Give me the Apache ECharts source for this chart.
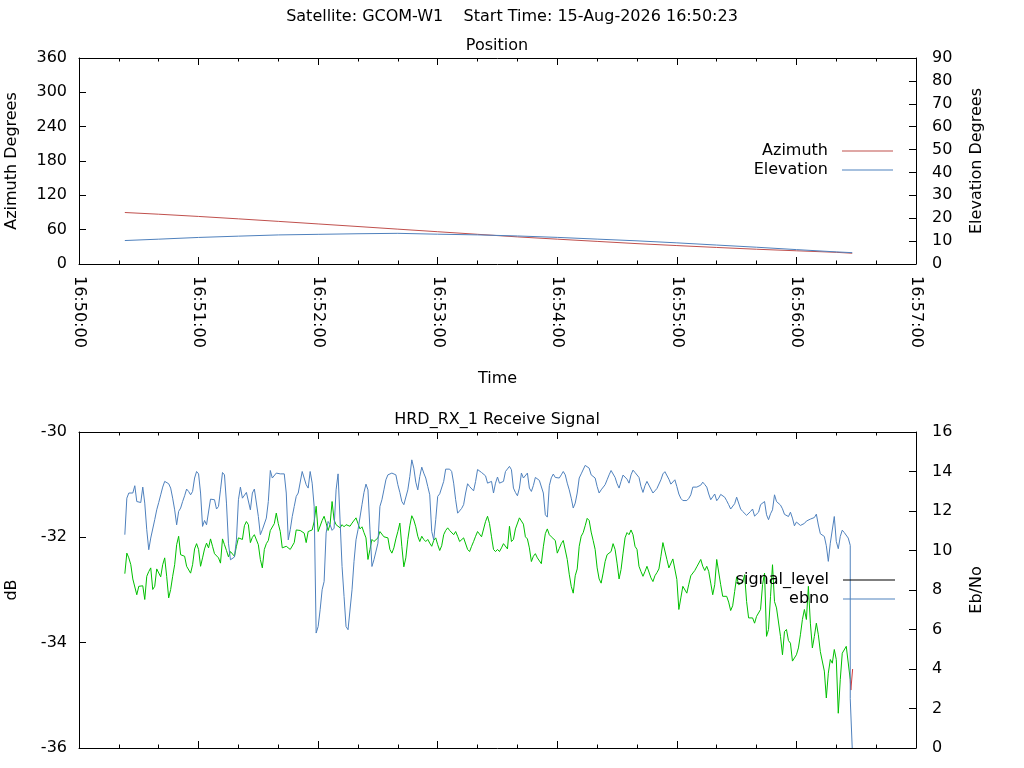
<!DOCTYPE html>
<html>
<head>
<meta charset="utf-8">
<script src="https://cdn.jsdelivr.net/npm/echarts@6/dist/echarts.min.js"></script>
<style>
html,body{margin:0;padding:0;background:#ffffff;}
#chart{width:1024px;height:768px;}
</style>
</head>
<body>
<div id="chart"></div>
<script>
// ---------- texts ----------
const mainTitle = 'Satellite: GCOM-W1    Start Time: 15-Aug-2026 16:50:23';
const positionTitle = 'Position';
const signalTitle = 'HRD_RX_1 Receive Signal';
const xTickLabels = ['16:50:00','16:51:00','16:52:00','16:53:00','16:54:00','16:55:00','16:56:00','16:57:00'];

// ---------- position panel (time = seconds after 16:50:00) ----------
const posTimes  = [23, 40, 60, 80, 100, 120, 140, 160, 180, 200, 220, 240, 260, 280, 300, 320, 340, 360, 380, 388];
const azimuth   = [90.0, 87.0, 83.1, 78.9, 74.5, 70.0, 65.5, 60.9, 56.4, 51.9, 47.4, 43.4, 39.5, 35.6, 32.2, 28.9, 25.8, 23.1, 20.4, 18.8];
const elevation = [10.25, 10.85, 11.60, 12.17, 12.70, 12.96, 13.22, 13.40, 13.02, 12.72, 12.25, 11.63, 10.87, 10.12, 9.24, 8.28, 7.33, 6.29, 5.29, 4.95];

// ---------- receive signal panel: one sample per second from 16:50:23 ----------
const sampleStart = 23;   // seconds after 16:50:00
const sampleStep = 1;     // seconds

const signalLevel = [
-32.69,-32.30,-32.39,-32.52,-32.79,-32.79,-33.09,-32.93,-32.90,-32.92,
-33.18,-32.74,-32.65,-32.58,-32.99,-32.93,-32.60,-32.61,-32.75,-32.52,
-32.39,-32.74,-33.15,-32.99,-32.74,-32.52,-32.14,-31.98,-32.33,-32.30,
-32.36,-32.55,-32.52,-32.68,-32.52,-32.22,-32.12,-32.23,-32.55,-32.39,
-32.22,-32.11,-32.20,-32.03,-32.17,-32.31,-32.33,-32.39,-32.49,-32.03,
-32.14,-32.25,-32.37,-32.27,-32.30,-32.36,-32.17,-32.01,-32.00,-32.04,
-31.78,-31.70,-31.76,-32.10,-32.00,-31.95,-31.92,-32.14,-32.42,-32.58,
-32.23,-32.12,-32.06,-31.87,-31.89,-31.74,-31.54,-31.74,-31.89,-32.20,
-32.20,-32.17,-32.20,-32.23,-32.25,-32.10,-31.86,-31.87,-31.87,-31.84,
-31.92,
-32.10,-31.89,-31.89,-31.86,-31.70,-31.41,-31.89,-31.86,-31.68,-31.60,
-31.73,-31.87,-31.75,-31.32,-31.67,-31.76,-31.79,-31.82,-31.76,-31.80,
-31.76,-31.77,-31.79,-31.73,-31.76,-31.63,-31.74,-31.84,-31.80,-31.91,
-32.01,-32.42,-32.23,-32.04,-32.08,-32.08,-32.01,-31.89,-31.92,-31.99,
-32.01,-32.01,-32.23,-32.30,-32.20,-32.03,-31.89,-31.73,-32.17,-32.56,
-32.39,-32.04,-31.78,-31.59,-31.67,-31.80,-31.98,-32.08,-31.98,-32.04,
-32.08,-32.04,-32.11,-32.17,-32.06,-32.01,-32.14,-32.25,-32.16,-31.95,
-31.87,-31.82,-31.87,-31.89,-31.95,-31.89,-31.98,-32.08,-32.08,-32.01,
-32.03,-32.23,-32.27,-32.17,-32.08,-31.98,-31.89,-31.89,-31.99,-31.97,
-31.70,-31.60,-31.74,
-31.99,-32.23,-32.27,-32.23,-32.27,-32.20,-32.12,-32.13,-32.22,-31.79,
-32.08,-32.04,-31.84,-31.87,-31.63,-31.65,-31.75,-31.99,-32.03,-32.20,
-32.46,-32.36,-32.31,-32.39,-32.41,-32.50,-32.18,-31.93,-31.84,-31.95,
-31.99,-31.99,-32.06,-32.30,-32.21,-32.12,-32.06,-32.04,-32.42,-32.70,
-32.93,-33.06,-32.73,-32.60,-32.17,-31.98,-31.91,-31.78,-31.64,-31.68,
-31.90,-32.06,-32.23,-32.58,-32.79,-32.87,-32.68,-32.46,-32.33,-32.35,
-32.27,-32.12,-32.23,-32.49,-32.79,-32.61,-32.30,-32.01,-31.91,-31.95,
-31.86,-31.95,-32.17,-32.23,-32.55,-32.65,-32.74,-32.65,-32.55,-32.55,
-32.77,-32.84,-32.73,-32.67,-32.60,-32.36,-32.10,-32.11,-32.42,-32.58,
-32.58,-32.41,
-32.41,-32.80,-33.37,-33.15,-32.93,-32.92,-33.06,-32.89,-32.73,-32.76,
-32.63,-32.56,-32.57,-32.42,-32.55,-32.63,-32.55,-32.65,-32.87,-33.09,
-32.90,-32.42,-32.42,-32.90,-33.12,-33.12,-33.12,-33.23,-33.39,-33.30,
-33.03,-32.75,-32.90,-32.87,-32.86,-32.71,-33.22,-33.53,-33.53,-33.53,
-33.63,-33.50,-33.48,-33.37,-32.90,-32.68,-33.88,-33.75,-33.12,-32.52,
-33.22,-33.34,-33.31,-33.88,-34.23,-33.79,-33.75,-33.96,-34.01,-34.35,
-34.35,-34.23,-34.10,-33.85,-33.56,-33.37,-33.56,-32.93,-33.63,-34.10,
-33.88,-33.63,-33.85,-34.17,-34.20,-34.54,-35.05,-34.58,-34.32,-34.39,
-34.13,-34.32,-35.34,-34.70,-34.20,-34.20,-34.07,-34.10,-34.70
];

// last samples of signal level drawn in red (after lock loss)
const signalTailTimes = [387, 387.3, 388.2];
const signalTail = [-34.70, -34.90, -34.50];

const ebno = [
10.80,12.65,12.91,12.82,12.91,13.28,12.48,12.48,12.43,13.21,
12.40,11.05,10.04,10.63,10.68,11.56,12.06,12.43,12.82,13.21,
13.50,13.60,13.38,13.16,12.65,12.06,11.30,11.98,12.15,12.48,
12.77,13.11,12.99,12.82,12.99,13.67,14.00,13.88,12.91,11.22,
11.52,11.30,11.39,12.60,12.70,12.57,12.10,12.23,13.07,13.95,
13.83,12.40,10.37,9.53,9.43,9.67,10.54,12.57,13.21,12.65,
12.65,12.94,12.99,12.06,12.91,13.11,13.07,11.72,10.80,11.05,
11.08,11.64,12.48,14.05,13.67,13.75,13.92,13.99,13.88,13.92,
13.88,12.91,10.54,11.05,11.72,12.23,12.74,12.91,12.99,14.00,
14.09,
13.33,13.16,14.00,13.41,12.23,5.82,6.15,7.00,8.01,8.43,
10.88,11.47,11.30,11.02,11.13,13.07,13.88,13.92,9.19,7.67,
6.15,5.99,6.07,8.01,9.45,10.54,11.05,11.13,12.32,12.94,
13.36,13.07,11.05,9.19,9.53,9.53,10.37,12.23,12.57,13.07,
13.58,13.83,13.78,13.92,13.92,13.83,13.33,12.94,12.48,12.32,
12.40,13.07,13.75,14.59,14.17,13.46,13.07,13.75,14.22,13.92,
13.67,13.24,12.82,10.96,10.54,11.56,12.74,12.87,12.82,13.50,
14.12,14.17,14.12,14.00,13.41,12.57,11.89,11.93,12.13,12.32,
12.91,13.38,13.24,13.34,13.02,13.50,14.10,14.14,13.95,13.87,
13.78,13.41,13.50,
13.50,12.91,13.41,13.72,13.41,13.41,13.50,14.00,14.09,14.26,
14.09,13.16,12.94,12.77,13.16,13.92,13.67,13.72,13.92,13.16,
12.99,13.29,13.70,13.68,13.55,13.46,12.91,11.81,11.69,13.28,
13.68,13.87,13.70,13.61,13.67,13.83,14.00,13.83,13.41,13.07,
12.65,12.15,12.40,12.91,13.67,13.88,13.88,14.31,14.36,14.17,
13.83,13.83,13.67,13.24,12.91,13.07,13.16,13.33,13.58,13.83,
14.05,14.05,13.70,13.38,13.16,13.50,13.82,13.75,13.61,13.41,
13.83,14.07,13.95,13.85,13.70,13.24,12.94,13.28,13.50,13.45,
13.11,12.91,13.02,13.14,13.23,13.58,13.88,13.99,13.97,13.61,
13.36,13.46,
13.58,13.24,12.86,12.64,12.53,12.53,12.53,12.64,12.82,13.21,
13.11,13.21,13.21,13.31,13.46,13.34,13.21,12.86,12.57,12.60,
12.86,12.52,12.65,12.84,12.89,12.70,12.52,12.32,12.10,12.10,
12.37,12.70,12.77,12.10,11.98,11.88,11.78,11.72,11.98,12.10,
11.74,11.78,11.94,12.32,12.35,12.48,11.81,11.56,11.86,12.06,
12.82,12.48,12.52,12.30,12.11,11.83,11.81,11.72,11.94,11.64,
11.25,11.44,11.47,11.27,11.37,11.37,11.49,11.56,11.59,11.69,
11.67,11.84,11.29,10.85,10.75,10.71,10.24,9.45,10.37,10.46,
11.72,10.46,10.09,10.71,11.03,10.91,10.91,10.63,10.26
];
// loss of signal at the end of the pass
const ebnoTailTimes = [387, 388];
const ebnoTail = [2.50, 0.00];

// ---------- build ----------
const pairs = (times, vals) => vals.map((v, i) => [times[i], v]);
const sampled = (vals) => vals.map((v, i) => [sampleStart + i * sampleStep, v]);

const FONT = 'DejaVu Sans';
const txt = { color: '#000000', fontFamily: FONT, fontSize: 16 };
const RED = '#c0504d', BLUE = '#4f81bd', GREEN = '#00c000', TAILRED = '#d03c3c';

const baseX = {
  type: 'value', min: 0, max: 420, interval: 60,
  axisLine: { show: true, onZero: false, lineStyle: { color: '#000', width: 1 } },
  axisTick: { show: true, inside: true, length: 7, lineStyle: { color: '#000', width: 1 } },
  minorTick: { show: true, splitNumber: 3, length: 3.5, lineStyle: { color: '#000', width: 1 } },
  splitLine: { show: false }, minorSplitLine: { show: false },
  axisLabel: { show: false }
};
const baseY = {
  type: 'value',
  axisLine: { show: true, onZero: false, lineStyle: { color: '#000', width: 1 } },
  axisTick: { show: true, inside: true, length: 7, lineStyle: { color: '#000', width: 1 } },
  splitLine: { show: false },
  nameLocation: 'middle', nameRotate: 90, nameTextStyle: txt
};
const lineSeries = (name, xi, yi, data, color) => ({
  name, type: 'line', xAxisIndex: xi, yAxisIndex: yi, data,
  symbol: 'none', showSymbol: false, silent: true,
  lineStyle: { color, width: 1 }, itemStyle: { color },
  emphasis: { disabled: true }, animation: false
});

const chart = echarts.init(document.getElementById('chart'), null, { renderer: 'canvas' });
chart.setOption({
  animation: false,
  backgroundColor: '#ffffff',
  textStyle: { fontFamily: FONT },
  graphic: [
    { type: 'text', x: 512, y: 17, silent: true,
      style: { text: mainTitle, fill: '#000', font: '16px "DejaVu Sans"', align: 'center', verticalAlign: 'middle', textAlign: 'center', textVerticalAlign: 'middle' } },
    { type: 'text', x: 497, y: 46, silent: true,
      style: { text: positionTitle, fill: '#000', font: '16px "DejaVu Sans"', align: 'center', verticalAlign: 'middle', textAlign: 'center', textVerticalAlign: 'middle' } },
    { type: 'text', x: 497, y: 420, silent: true,
      style: { text: signalTitle, fill: '#000', font: '16px "DejaVu Sans"', align: 'center', verticalAlign: 'middle', textAlign: 'center', textVerticalAlign: 'middle' } }
  ],
  grid: [
    { left: 79, right: 108, top: 58, height: 206, containLabel: false, outerBoundsMode: 'none' },
    { left: 79, right: 108, top: 432, height: 316, containLabel: false, outerBoundsMode: 'none' }
  ],
  xAxis: [
    Object.assign({}, baseX, {
      gridIndex: 0, position: 'bottom',
      axisLabel: Object.assign({ show: true, rotate: -90, margin: 12, showMinLabel: true, showMaxLabel: true,
        formatter: v => xTickLabels[Math.round(v / 60)] }, txt),
      name: 'Time', nameLocation: 'middle', nameGap: 107, nameTextStyle: txt
    }),
    Object.assign({}, baseX, { gridIndex: 0, position: 'top' }),
    Object.assign({}, baseX, { gridIndex: 1, position: 'bottom' }),
    Object.assign({}, baseX, { gridIndex: 1, position: 'top' })
  ],
  yAxis: [
    Object.assign({}, baseY, { gridIndex: 0, position: 'left', min: 0, max: 360, interval: 60,
      name: 'Azimuth Degrees', nameGap: 59, axisLabel: Object.assign({ margin: 12 }, txt) }),
    Object.assign({}, baseY, { gridIndex: 0, position: 'right', min: 0, max: 90, interval: 10,
      name: 'Elevation Degrees', nameGap: 53, axisLabel: Object.assign({ margin: 16 }, txt) }),
    Object.assign({}, baseY, { gridIndex: 1, position: 'left', min: -36, max: -30, interval: 2,
      name: 'dB', nameGap: 59, axisLabel: Object.assign({ margin: 12 }, txt) }),
    Object.assign({}, baseY, { gridIndex: 1, position: 'right', min: 0, max: 16, interval: 2,
      name: 'Eb/No', nameGap: 53, axisLabel: Object.assign({ margin: 16 }, txt) })
  ],
  legend: [
    { data: ['Azimuth', 'Elevation'], orient: 'vertical', align: 'right', right: 131, top: 143,
      itemWidth: 51, itemHeight: 1, icon: 'rect', itemGap: 3, padding: 0, selectedMode: false,
      textStyle: Object.assign({ padding: [0, 9, 0, 0] }, txt) },
    { data: ['signal_level', 'ebno'], orient: 'vertical', align: 'right', right: 129, top: 572,
      itemWidth: 52, itemHeight: 1, icon: 'rect', itemGap: 3, padding: 0, selectedMode: false,
      textStyle: Object.assign({ padding: [0, 9, 0, 0] }, txt) }
  ],
  series: [
    lineSeries('Azimuth', 0, 0, pairs(posTimes, azimuth), RED),
    lineSeries('Elevation', 0, 1, pairs(posTimes, elevation), BLUE),
    lineSeries('signal_level', 2, 2, [], '#000000'),
    lineSeries('signal_level (locked)', 2, 2, sampled(signalLevel), GREEN),
    lineSeries('signal_level (unlocked)', 2, 2, pairs(signalTailTimes, signalTail), TAILRED),
    lineSeries('ebno', 2, 3, sampled(ebno).concat(pairs(ebnoTailTimes, ebnoTail)), BLUE)
  ]
});
</script>
</body>
</html>
